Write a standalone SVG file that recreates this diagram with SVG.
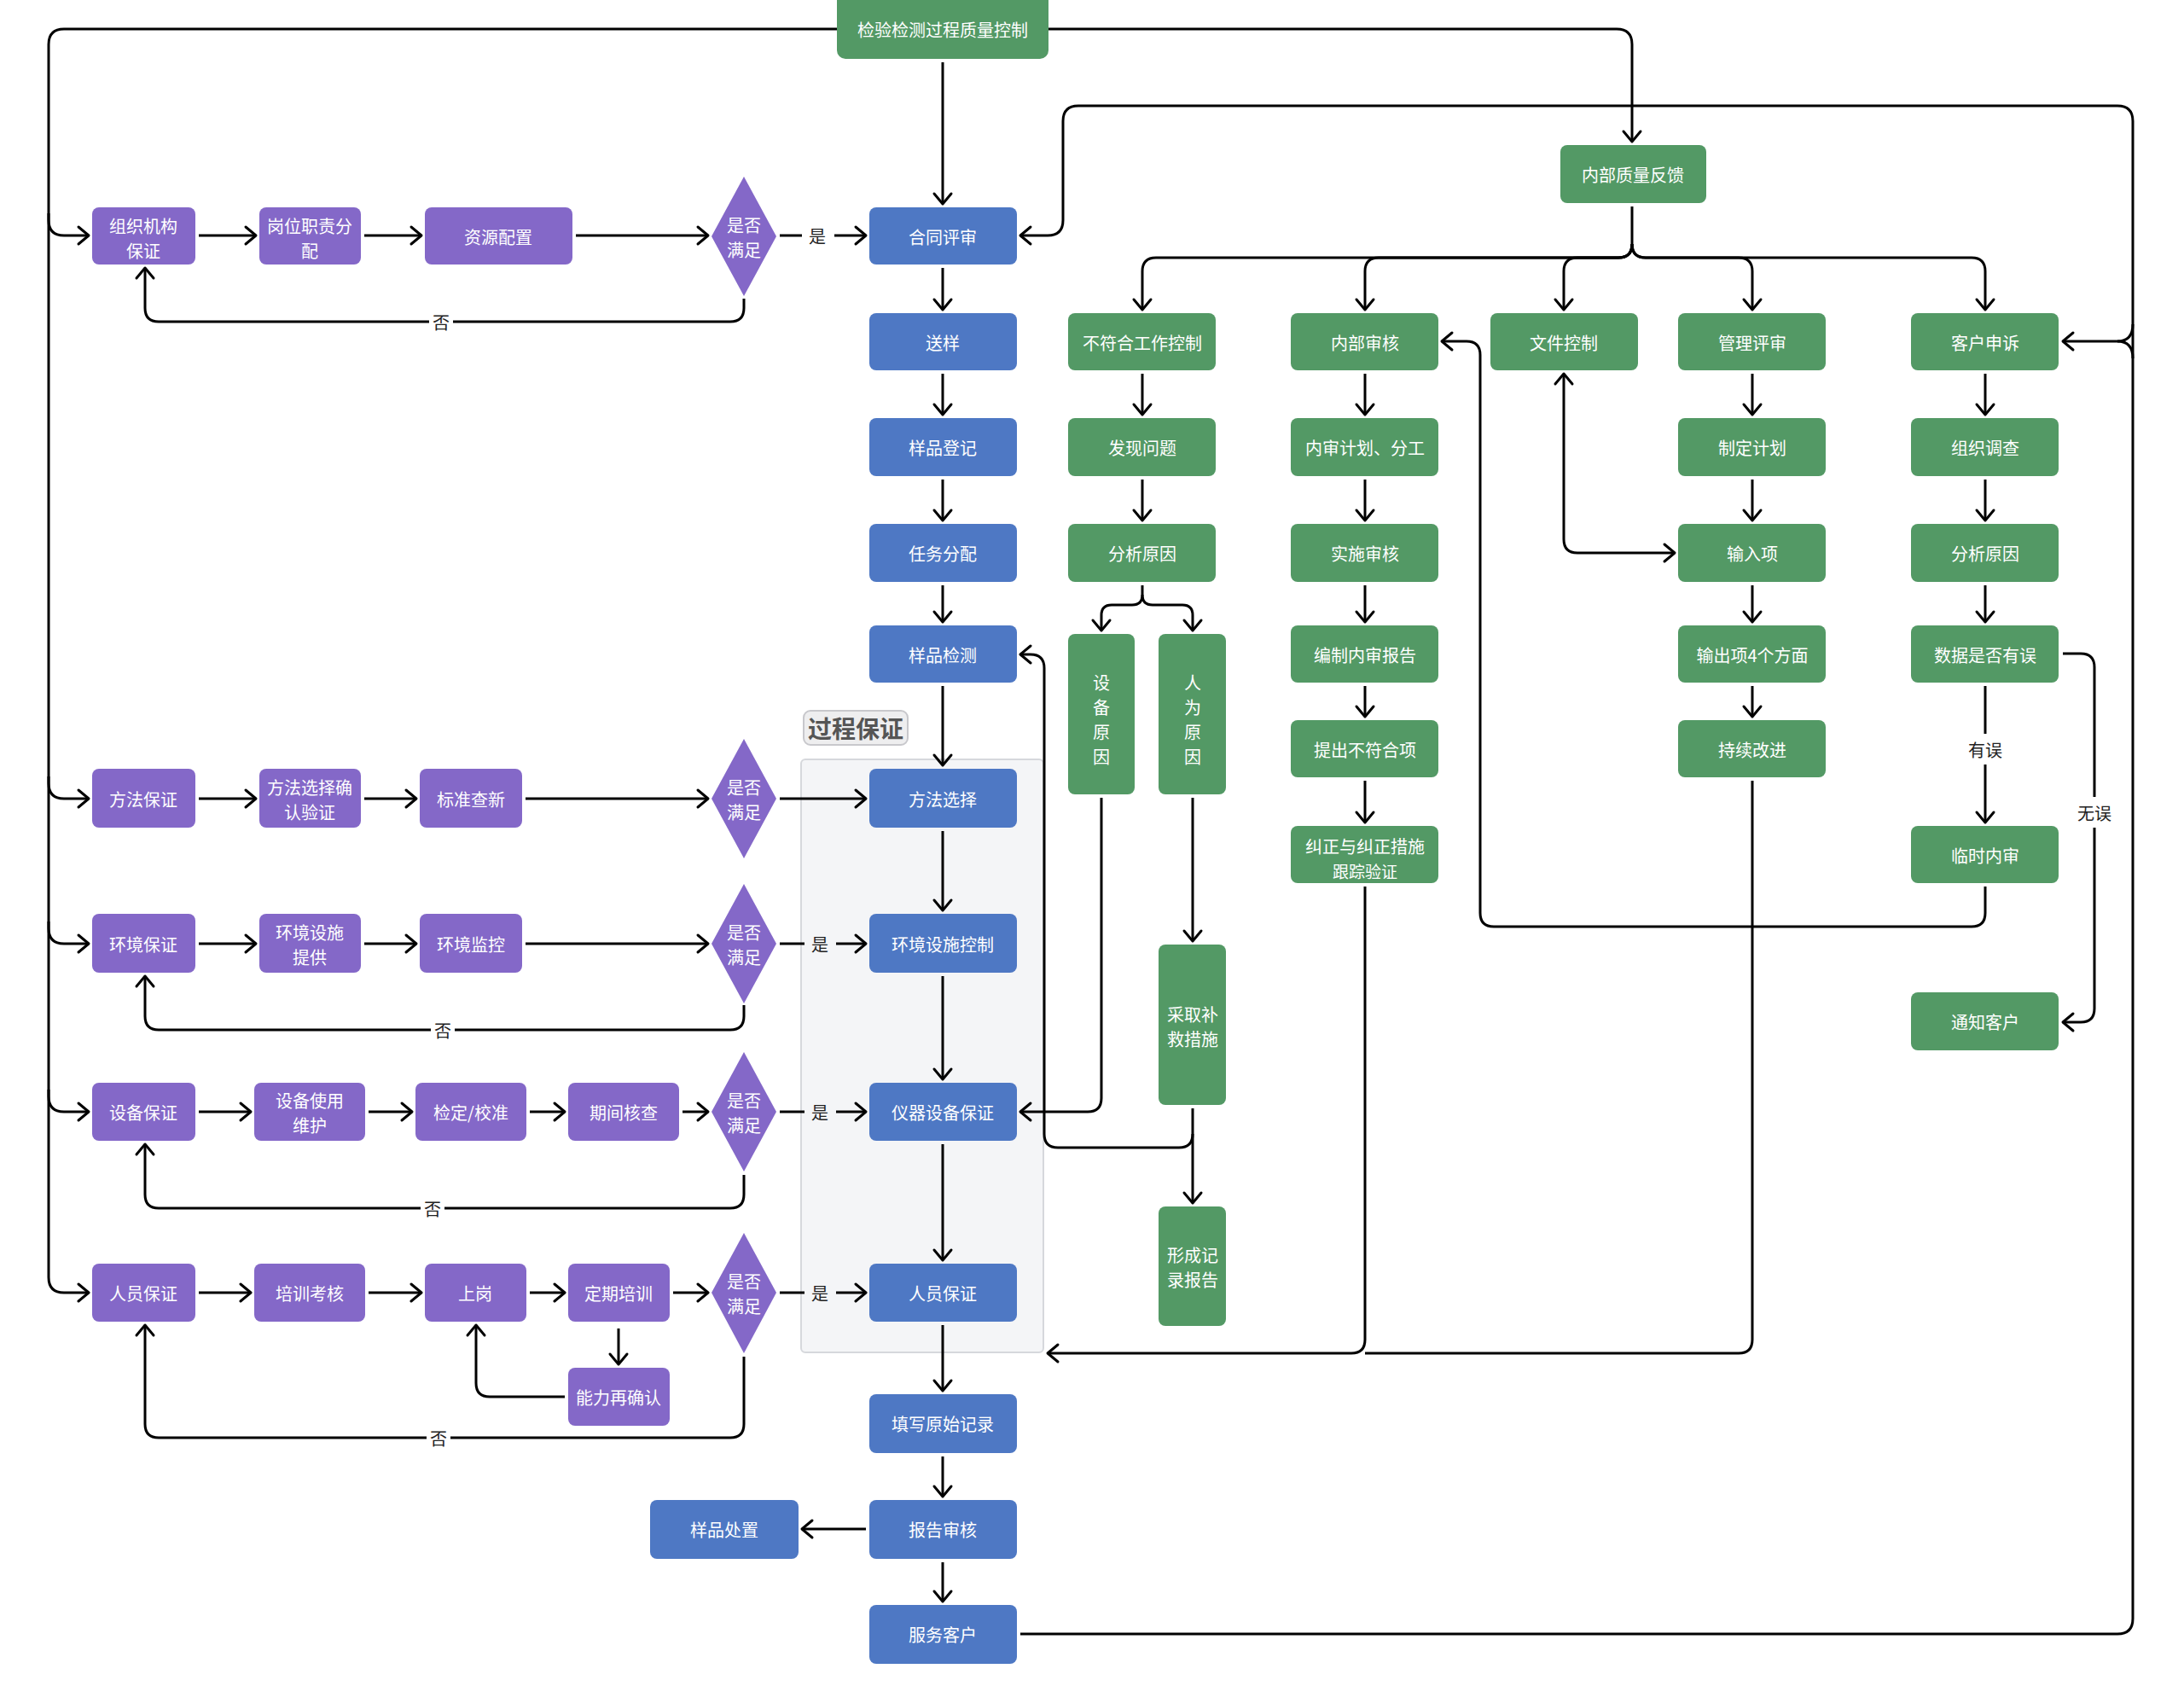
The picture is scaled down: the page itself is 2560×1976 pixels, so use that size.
<svg xmlns="http://www.w3.org/2000/svg" width="2560" height="1976" viewBox="0 0 2560 1976">
<defs>
<marker id="ah" viewBox="-15 -13 18 26" refX="0" refY="0" markerWidth="18" markerHeight="26" markerUnits="userSpaceOnUse" orient="auto-start-reverse">
<path d="M-12,-10 L0,0 L-12,10" fill="none" stroke="#000" stroke-width="3" stroke-linejoin="round" stroke-linecap="round"/>
</marker>
</defs>
<style>
text{font-family:"Noto Sans CJK SC","Noto Sans",sans-serif;}
.p{fill:#8468c8;}
.b{fill:#4e78c4;}
.g{fill:#539965;}
.t{fill:#fff;font-size:20px;text-anchor:middle;dominant-baseline:central;}
.ts{fill:#fff;font-size:19px;text-anchor:middle;dominant-baseline:central;}
.c path{fill:none;stroke:#000;stroke-width:3;}
.a{marker-end:url(#ah);}
.lbl{fill:#222;font-size:20px;text-anchor:middle;dominant-baseline:central;}
.lb{fill:#fff;}
</style>
<rect width="2560" height="1976" fill="#fff"/>

<!-- process group -->
<g id="grp-process">
<rect x="939" y="890" width="284" height="695" rx="5" fill="#f4f5f7" stroke="#d6d8dc" stroke-width="2"/>
<rect x="942" y="833" width="122" height="40" rx="8" fill="#eeeeef" stroke="#c8c8cc" stroke-width="2"/>
<text x="1003" y="853" style="font-size:28px;font-weight:bold;fill:#555;text-anchor:middle;dominant-baseline:central">过程保证</text>
</g>

<!-- connectors -->
<g id="connectors" class="c">
<path class="a" d="M981,34 H75 Q57,34 57,52 V1497 Q57,1515 75,1515 H104"/>
<path class="a" d="M57,250 V258 Q57,276 75,276 H104"/>
<path class="a" d="M57,910 V918 Q57,936 75,936 H104"/>
<path class="a" d="M57,1080 V1088 Q57,1106 75,1106 H104"/>
<path class="a" d="M57,1277 V1285 Q57,1303 75,1303 H104"/>
<path class="a" d="M1229,34 H1895 Q1913,34 1913,52 V166"/>
<path class="a" d="M1105,73 V239"/>

<!-- row1 -->
<path class="a" d="M233,276 H300"/>
<path class="a" d="M427,276 H494"/>
<path class="a" d="M675,276 H830"/>
<path d="M914,276 H940"/>
<path class="a" d="M978,276 H1015"/>
<path class="a" d="M872,350 V361 Q872,377 856,377 H186 Q170,377 170,361 V314"/>
<!-- row2 -->
<path class="a" d="M233,936 H300"/>
<path class="a" d="M427,936 H488"/>
<path class="a" d="M616,936 H830"/>
<path class="a" d="M914,936 H1015"/>
<!-- row3 -->
<path class="a" d="M233,1106 H300"/>
<path class="a" d="M427,1106 H488"/>
<path class="a" d="M616,1106 H830"/>
<path d="M914,1106 H943"/>
<path class="a" d="M980,1106 H1015"/>
<path class="a" d="M872,1178 V1191 Q872,1207 856,1207 H186 Q170,1207 170,1191 V1144"/>
<!-- row4 -->
<path class="a" d="M233,1303 H294"/>
<path class="a" d="M432,1303 H483"/>
<path class="a" d="M621,1303 H662"/>
<path class="a" d="M800,1303 H830"/>
<path d="M914,1303 H943"/>
<path class="a" d="M980,1303 H1015"/>
<path class="a" d="M872,1377 V1400 Q872,1416 856,1416 H186 Q170,1416 170,1400 V1341"/>
<!-- row5 -->
<path class="a" d="M233,1515 H294"/>
<path class="a" d="M432,1515 H494"/>
<path class="a" d="M621,1515 H662"/>
<path class="a" d="M789,1515 H830"/>
<path d="M914,1515 H943"/>
<path class="a" d="M980,1515 H1015"/>
<path class="a" d="M872,1590 V1669 Q872,1685 856,1685 H186 Q170,1685 170,1669 V1553"/>
<path class="a" d="M725,1557 V1599"/>
<path class="a" d="M662,1637 H574 Q558,1637 558,1621 V1553"/>

<!-- blue column -->
<path class="a" d="M1105,314 V363"/>
<path class="a" d="M1105,438 V486"/>
<path class="a" d="M1105,562 V610"/>
<path class="a" d="M1105,686 V729"/>
<path class="a" d="M1105,804 V897"/>
<path class="a" d="M1105,974 V1067"/>
<path class="a" d="M1105,1144 V1265"/>
<path class="a" d="M1105,1341 V1477"/>
<path class="a" d="M1105,1553 V1630"/>
<path class="a" d="M1105,1707 V1754"/>
<path class="a" d="M1105,1831 V1877"/>
<path class="a" d="M1015,1792 H940"/>
<path class="a" d="M1196,1915 H2482 Q2500,1915 2500,1897 V142 Q2500,124 2482,124 H1264 Q1246,124 1246,142 V258 Q1246,276 1228,276 H1196"/>
<path d="M2500,380 Q2500,400 2482,400"/>
<path class="a" d="M2500,420 Q2500,400 2482,400 H2418"/>

<!-- internal feedback branches -->
<path class="a" d="M1913,242 V286 Q1913,302 1897,302 H1355 Q1339,302 1339,318 V363"/>
<path class="a" d="M1913,286 Q1913,302 1897,302 H1616 Q1600,302 1600,318 V363"/>
<path class="a" d="M1913,286 Q1913,302 1897,302 H1849 Q1833,302 1833,318 V363"/>
<path class="a" d="M1913,286 Q1913,302 1929,302 H2038 Q2054,302 2054,318 V363"/>
<path class="a" d="M1913,286 Q1913,302 1929,302 H2311 Q2327,302 2327,318 V363"/>

<!-- col1 -->
<path class="a" d="M1339,438 V486"/>
<path class="a" d="M1339,562 V610"/>
<path class="a" d="M1339,686 V697 Q1339,709 1327,709 H1303 Q1291,709 1291,721 V739"/>
<path class="a" d="M1339,697 Q1339,709 1351,709 H1386 Q1398,709 1398,721 V739"/>
<path class="a" d="M1398,935 V1103"/>
<path class="a" d="M1291,935 V1287 Q1291,1303 1275,1303 H1196"/>
<path class="a" d="M1398,1299 V1410"/>
<path class="a" d="M1398,1329 Q1398,1345 1382,1345 H1240 Q1224,1345 1224,1329 V783 Q1224,767 1208,767 H1196"/>

<!-- col2 -->
<path class="a" d="M1600,438 V486"/>
<path class="a" d="M1600,562 V610"/>
<path class="a" d="M1600,686 V729"/>
<path class="a" d="M1600,804 V840"/>
<path class="a" d="M1600,915 V964"/>
<path class="a" d="M1600,1039 V1570 Q1600,1586 1584,1586 H1228"/>
<path d="M2054,915 V1570 Q2054,1586 2038,1586 H1600"/>

<!-- col3 -->
<path class="a" style="marker-start:url(#ah)" d="M1963,648 H1849 Q1833,648 1833,632 V438"/>
<path class="a" d="M2327,1039 V1070 Q2327,1086 2311,1086 H1751 Q1735,1086 1735,1070 V416 Q1735,400 1719,400 H1690"/>

<!-- col4 -->
<path class="a" d="M2054,438 V486"/>
<path class="a" d="M2054,562 V610"/>
<path class="a" d="M2054,686 V729"/>
<path class="a" d="M2054,804 V840"/>

<!-- col5 -->
<path class="a" d="M2327,438 V486"/>
<path class="a" d="M2327,562 V610"/>
<path class="a" d="M2327,686 V729"/>
<path class="a" d="M2327,804 V964"/>
<path class="a" d="M2418,766 H2439 Q2455,766 2455,782 V1182 Q2455,1198 2439,1198 H2418"/>

<!-- labels -->
<rect class="lb" x="944" y="262" width="28" height="28"/>
<text class="lbl" x="958" y="276">是</text>
<rect class="lb" x="503" y="364" width="28" height="28"/>
<text class="lbl" x="517" y="377">否</text>
<text class="lbl" x="961" y="1106">是</text>
<rect class="lb" x="505" y="1193" width="28" height="28"/>
<text class="lbl" x="519" y="1207">否</text>
<text class="lbl" x="961" y="1303">是</text>
<rect class="lb" x="493" y="1402" width="28" height="28"/>
<text class="lbl" x="507" y="1416">否</text>
<text class="lbl" x="961" y="1515">是</text>
<rect class="lb" x="500" y="1671" width="28" height="28"/>
<text class="lbl" x="514" y="1685">否</text>
<rect class="lb" x="2303" y="860" width="48" height="36"/>
<text class="lbl" x="2327" y="878">有误</text>
<rect class="lb" x="2431" y="934" width="48" height="36"/>
<text class="lbl" x="2455" y="952">无误</text>
</g>

<!-- green nodes -->
<g id="n-top"><rect class="g" x="981" y="-12" width="248" height="81" rx="10"/><text class="t" x="1105" y="34">检验检测过程质量控制</text></g>
<g id="n-feedback"><rect class="g" x="1829" y="170" width="171" height="68" rx="8"/><text class="t" x="1914" y="204">内部质量反馈</text></g>
<g id="n-ncw"><rect class="g" x="1252" y="367" width="173" height="67" rx="8"/><text class="t" x="1339" y="401">不符合工作控制</text></g>
<g id="n-ia"><rect class="g" x="1513" y="367" width="173" height="67" rx="8"/><text class="t" x="1600" y="401">内部审核</text></g>
<g id="n-doc"><rect class="g" x="1747" y="367" width="173" height="67" rx="8"/><text class="t" x="1833" y="401">文件控制</text></g>
<g id="n-mr"><rect class="g" x="1967" y="367" width="173" height="67" rx="8"/><text class="t" x="2054" y="401">管理评审</text></g>
<g id="n-cc"><rect class="g" x="2240" y="367" width="173" height="67" rx="8"/><text class="t" x="2327" y="401">客户申诉</text></g>

<g id="n-find"><rect class="g" x="1252" y="490" width="173" height="68" rx="8"/><text class="t" x="1339" y="524">发现问题</text></g>
<g id="n-cause1"><rect class="g" x="1252" y="614" width="173" height="68" rx="8"/><text class="t" x="1339" y="648">分析原因</text></g>
<g id="n-equip-cause"><rect class="g" x="1252" y="743" width="78" height="188" rx="8"/>
<text class="t" x="1291" y="799">设</text><text class="t" x="1291" y="828">备</text><text class="t" x="1291" y="857">原</text><text class="t" x="1291" y="886">因</text></g>
<g id="n-human-cause"><rect class="g" x="1358" y="743" width="79" height="188" rx="8"/>
<text class="t" x="1398" y="799">人</text><text class="t" x="1398" y="828">为</text><text class="t" x="1398" y="857">原</text><text class="t" x="1398" y="886">因</text></g>
<g id="n-remedy"><rect class="g" x="1358" y="1107" width="79" height="188" rx="8"/><text class="t" x="1398" y="1188">采取补</text><text class="t" x="1398" y="1217">救措施</text></g>
<g id="n-record"><rect class="g" x="1358" y="1414" width="79" height="140" rx="8"/><text class="t" x="1398" y="1470">形成记</text><text class="t" x="1398" y="1499">录报告</text></g>

<g id="n-plan"><rect class="g" x="1513" y="490" width="173" height="68" rx="8"/><text class="t" x="1600" y="524">内审计划、分工</text></g>
<g id="n-exec"><rect class="g" x="1513" y="614" width="173" height="68" rx="8"/><text class="t" x="1600" y="648">实施审核</text></g>
<g id="n-report"><rect class="g" x="1513" y="733" width="173" height="67" rx="8"/><text class="t" x="1600" y="767">编制内审报告</text></g>
<g id="n-nc"><rect class="g" x="1513" y="844" width="173" height="67" rx="8"/><text class="t" x="1600" y="878">提出不符合项</text></g>
<g id="n-ca"><rect class="g" x="1513" y="968" width="173" height="67" rx="8"/><text class="t" x="1600" y="991">纠正与纠正措施</text><text class="ts" x="1600" y="1020">跟踪验证</text></g>

<g id="n-mplan"><rect class="g" x="1967" y="490" width="173" height="68" rx="8"/><text class="t" x="2054" y="524">制定计划</text></g>
<g id="n-input"><rect class="g" x="1967" y="614" width="173" height="68" rx="8"/><text class="t" x="2054" y="648">输入项</text></g>
<g id="n-output"><rect class="g" x="1967" y="733" width="173" height="67" rx="8"/><text class="t" x="2054" y="767">输出项4个方面</text></g>
<g id="n-ci"><rect class="g" x="1967" y="844" width="173" height="67" rx="8"/><text class="t" x="2054" y="878">持续改进</text></g>

<g id="n-inv"><rect class="g" x="2240" y="490" width="173" height="68" rx="8"/><text class="t" x="2327" y="524">组织调查</text></g>
<g id="n-cause2"><rect class="g" x="2240" y="614" width="173" height="68" rx="8"/><text class="t" x="2327" y="648">分析原因</text></g>
<g id="n-data"><rect class="g" x="2240" y="733" width="173" height="67" rx="8"/><text class="t" x="2327" y="767">数据是否有误</text></g>
<g id="n-tmp"><rect class="g" x="2240" y="968" width="173" height="67" rx="8"/><text class="t" x="2327" y="1002">临时内审</text></g>
<g id="n-notify"><rect class="g" x="2240" y="1163" width="173" height="68" rx="8"/><text class="t" x="2327" y="1197">通知客户</text></g>

<!-- blue nodes -->
<g id="n-contract"><rect class="b" x="1019" y="243" width="173" height="67" rx="8"/><text class="t" x="1105" y="277">合同评审</text></g>
<g id="n-send"><rect class="b" x="1019" y="367" width="173" height="67" rx="8"/><text class="t" x="1105" y="401">送样</text></g>
<g id="n-reg"><rect class="b" x="1019" y="490" width="173" height="68" rx="8"/><text class="t" x="1105" y="524">样品登记</text></g>
<g id="n-task"><rect class="b" x="1019" y="614" width="173" height="68" rx="8"/><text class="t" x="1105" y="648">任务分配</text></g>
<g id="n-test"><rect class="b" x="1019" y="733" width="173" height="67" rx="8"/><text class="t" x="1105" y="767">样品检测</text></g>
<g id="n-msel"><rect class="b" x="1019" y="901" width="173" height="69" rx="8"/><text class="t" x="1105" y="936">方法选择</text></g>
<g id="n-envc"><rect class="b" x="1019" y="1071" width="173" height="69" rx="8"/><text class="t" x="1105" y="1106">环境设施控制</text></g>
<g id="n-inst"><rect class="b" x="1019" y="1269" width="173" height="68" rx="8"/><text class="t" x="1105" y="1303">仪器设备保证</text></g>
<g id="n-staff"><rect class="b" x="1019" y="1481" width="173" height="68" rx="8"/><text class="t" x="1105" y="1515">人员保证</text></g>
<g id="n-raw"><rect class="b" x="1019" y="1634" width="173" height="69" rx="8"/><text class="t" x="1105" y="1668">填写原始记录</text></g>
<g id="n-review"><rect class="b" x="1019" y="1758" width="173" height="69" rx="8"/><text class="t" x="1105" y="1792">报告审核</text></g>
<g id="n-serve"><rect class="b" x="1019" y="1881" width="173" height="69" rx="8"/><text class="t" x="1105" y="1915">服务客户</text></g>
<g id="n-dispose"><rect class="b" x="762" y="1758" width="174" height="69" rx="8"/><text class="t" x="849" y="1792">样品处置</text></g>

<!-- purple nodes -->
<g id="n-org"><rect class="p" x="108" y="243" width="121" height="67" rx="8"/><text class="t" x="168" y="264">组织机构</text><text class="t" x="168" y="293">保证</text></g>
<g id="n-duty"><rect class="p" x="304" y="243" width="119" height="67" rx="8"/><text class="t" x="363" y="264">岗位职责分</text><text class="t" x="363" y="293">配</text></g>
<g id="n-res"><rect class="p" x="498" y="243" width="173" height="67" rx="8"/><text class="t" x="584" y="277">资源配置</text></g>
<g id="d1"><polygon class="p" points="872,207 910,277 872,347 834,277"/><text class="t" x="872" y="263">是否</text><text class="t" x="872" y="292">满足</text></g>

<g id="n-method"><rect class="p" x="108" y="901" width="121" height="69" rx="8"/><text class="t" x="168" y="936">方法保证</text></g>
<g id="n-mverify"><rect class="p" x="304" y="901" width="119" height="69" rx="8"/><text class="t" x="363" y="922">方法选择确</text><text class="t" x="363" y="951">认验证</text></g>
<g id="n-std"><rect class="p" x="492" y="901" width="120" height="69" rx="8"/><text class="t" x="552" y="936">标准查新</text></g>
<g id="d2"><polygon class="p" points="872,866 910,936 872,1006 834,936"/><text class="t" x="872" y="922">是否</text><text class="t" x="872" y="951">满足</text></g>

<g id="n-env"><rect class="p" x="108" y="1071" width="121" height="69" rx="8"/><text class="t" x="168" y="1106">环境保证</text></g>
<g id="n-envp"><rect class="p" x="304" y="1071" width="119" height="69" rx="8"/><text class="t" x="363" y="1092">环境设施</text><text class="t" x="363" y="1121">提供</text></g>
<g id="n-envm"><rect class="p" x="492" y="1071" width="120" height="69" rx="8"/><text class="t" x="552" y="1106">环境监控</text></g>
<g id="d3"><polygon class="p" points="872,1036 910,1106 872,1176 834,1106"/><text class="t" x="872" y="1092">是否</text><text class="t" x="872" y="1121">满足</text></g>

<g id="n-equip"><rect class="p" x="108" y="1269" width="121" height="68" rx="8"/><text class="t" x="168" y="1303">设备保证</text></g>
<g id="n-equse"><rect class="p" x="298" y="1269" width="130" height="68" rx="8"/><text class="t" x="363" y="1289">设备使用</text><text class="t" x="363" y="1318">维护</text></g>
<g id="n-calib"><rect class="p" x="487" y="1269" width="130" height="68" rx="8"/><text class="t" x="552" y="1303">检定/校准</text></g>
<g id="n-check"><rect class="p" x="666" y="1269" width="130" height="68" rx="8"/><text class="t" x="731" y="1303">期间核查</text></g>
<g id="d4"><polygon class="p" points="872,1233 910,1303 872,1373 834,1303"/><text class="t" x="872" y="1289">是否</text><text class="t" x="872" y="1318">满足</text></g>

<g id="n-person"><rect class="p" x="108" y="1481" width="121" height="68" rx="8"/><text class="t" x="168" y="1515">人员保证</text></g>
<g id="n-train"><rect class="p" x="298" y="1481" width="130" height="68" rx="8"/><text class="t" x="363" y="1515">培训考核</text></g>
<g id="n-post"><rect class="p" x="498" y="1481" width="119" height="68" rx="8"/><text class="t" x="557" y="1515">上岗</text></g>
<g id="n-periodic"><rect class="p" x="666" y="1481" width="119" height="68" rx="8"/><text class="t" x="725" y="1515">定期培训</text></g>
<g id="n-reconfirm"><rect class="p" x="666" y="1603" width="119" height="68" rx="8"/><text class="t" x="725" y="1637">能力再确认</text></g>
<g id="d5"><polygon class="p" points="872,1445 910,1515 872,1586 834,1515"/><text class="t" x="872" y="1501">是否</text><text class="t" x="872" y="1530">满足</text></g>
</svg>
